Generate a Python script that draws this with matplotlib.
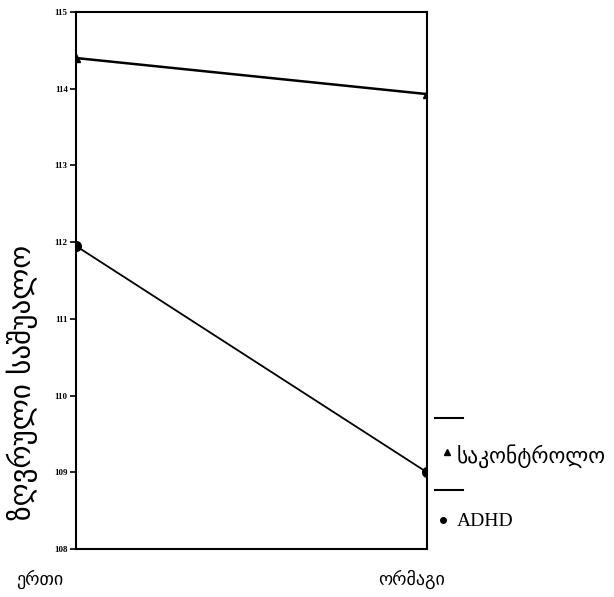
import matplotlib
matplotlib.use('Agg')
import matplotlib.pyplot as plt
import matplotlib.transforms as mtransforms
from matplotlib.lines import Line2D

# data
conditions = ["ერთი", "ორმაგი"]
control = [114.4, 113.93]
adhd = [111.95, 109.0]
series_labels = ["საკონტროლო", "ADHD"]
yticks = [108, 109, 110, 111, 112, 113, 114, 115]

geo = ['DejaVu Sans']
serif = ['Liberation Serif', 'DejaVu Serif']

fig = plt.figure(figsize=(6.14, 5.97), dpi=100)
ax = fig.add_axes([0.1238, 0.0804, 0.5716, 0.8995])

x = list(range(len(conditions)))
ax.plot(x, control, color='black', linewidth=1.8, marker='^', markersize=6)
ax.plot(x, adhd, color='black', linewidth=1.3, marker='o', markersize=7)

ax.set_xlim(0, 1)
ax.set_ylim(108, 115)
ax.set_yticks(yticks)
ax.set_yticklabels([str(v) for v in yticks], fontsize=6.5, family=serif,
                   fontweight='bold')
ax.tick_params(axis='y', direction='out', length=4, width=1.2, pad=2)

ax.set_xticks(x)
ax.set_xticklabels(conditions, fontsize=13, family=geo)
ax.tick_params(axis='x', length=0, pad=15)
shifts = [-36, -15]
for lab, dx in zip(ax.get_xticklabels(), shifts):
    lab.set_transform(lab.get_transform() +
                      mtransforms.ScaledTranslation(dx / 100, 0, fig.dpi_scale_trans))

for s in ax.spines.values():
    s.set_linewidth(1.5)

# y label sits low, beside the lower part of the axis
fig.text(22 / 614, 1 - 382 / 597, "ზღვრული საშუალო", fontsize=21, family=geo,
         rotation=90, ha='center', va='center')

# legend drawn beside the axes
tr = fig.transFigure
for yl in [1 - 418 / 597, 1 - 490 / 597]:
    fig.add_artist(Line2D([435 / 614, 463 / 614], [yl, yl], color='black',
                          linewidth=1.5, transform=tr))
fig.add_artist(Line2D([447 / 614], [1 - 452 / 597], marker='^', markersize=5,
                      color='black', linestyle='none', transform=tr))
fig.add_artist(Line2D([443 / 614], [1 - 520 / 597], marker='o', markersize=4,
                      color='black', linestyle='none', transform=tr))
fig.text(457 / 614, 1 - 456 / 597, series_labels[0], fontsize=15.5, family=geo,
         va='center', ha='left')
fig.text(457 / 614, 1 - 522 / 597, series_labels[1], fontsize=14, family=serif,
         va='center', ha='left')

plt.savefig('out.png', dpi=100)
